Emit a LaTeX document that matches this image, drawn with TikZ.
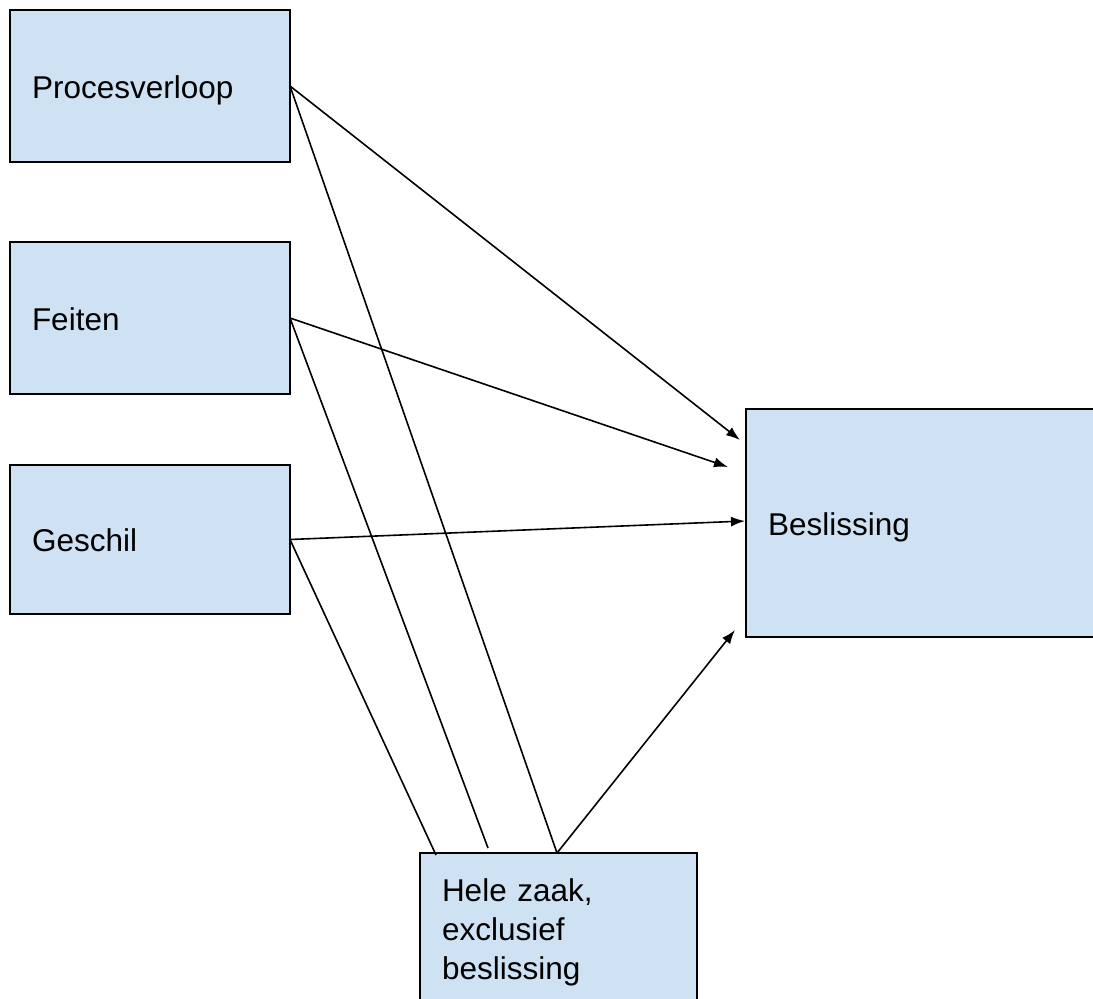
\documentclass[tikz,border=0pt]{standalone}
\usepackage{fontspec}
\setmainfont{Liberation Sans}
\usetikzlibrary{arrows.meta}
\definecolor{boxfill}{HTML}{CFE2F3}
\tikzset{
  box/.style={draw=black, fill=boxfill, line width=1.5pt, rectangle, outer sep=0pt,
    inner xsep=22pt, align=left, font=\fontsize{31.5}{39}\selectfont},
  oneline/.style={text height=24.6pt, text depth=0pt},
  conn/.style={line width=1.6pt, black},
  arr/.style={conn, -{Latex[length=14pt,width=10pt]}}
}
\begin{document}
\begin{tikzpicture}[x=1pt,y=-1pt]
\useasboundingbox (0,0) rectangle (1093,999);
\node[box, oneline, minimum width=280pt, minimum height=152pt, text width=236pt] (proc) at (150,86) {Procesverloop};
\node[box, oneline, minimum width=280pt, minimum height=152pt, text width=236pt] (feit) at (150,318) {Feiten};
\node[box, oneline, minimum width=280pt, minimum height=149pt, text width=236pt] (gesch) at (150,539.5) {Geschil};
\node[box, oneline, minimum width=354pt, minimum height=228pt, text width=310pt] (bes) at (923,523) {Beslissing};
\node[box, minimum width=277pt, minimum height=158pt, text width=233pt] (hele) at (558.5,932) {Hele zaak,\\exclusief\\beslissing};
% arrows into Beslissing
\draw[arr] (proc.east) -- ([xshift=-6pt,yshift=-31pt]bes.north west);
\draw[arr] (feit.east) -- ([xshift=-18pt,yshift=-58pt]bes.north west);
\draw[arr] (gesch.east) -- ([xshift=-1pt,yshift=-112pt]bes.north west);
\draw[arr] ([xshift=137pt]hele.north west) -- ([xshift=-11pt,yshift=-221pt]bes.north west);
% lines into Hele zaak
\draw[conn] (proc.east) -- ([xshift=137pt]hele.north west);
\draw[conn] (feit.east) -- ([xshift=68pt,yshift=5pt]hele.north west);
\draw[conn] (gesch.east) -- ([xshift=16pt,yshift=-2pt]hele.north west);
\end{tikzpicture}
\end{document}
